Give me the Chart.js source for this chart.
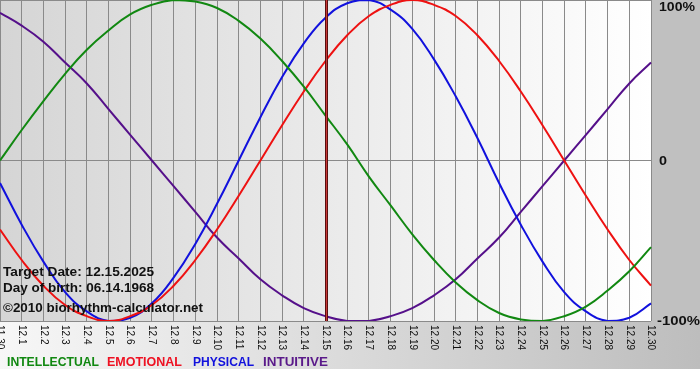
<!DOCTYPE html>
<html><head><meta charset="utf-8">
<script src="https://cdn.jsdelivr.net/npm/chart.js@4.4.1/dist/chart.umd.min.js"></script>
<style>html,body{margin:0;padding:0;background:#fff}#w{width:700px;height:380px}</style>
</head><body><div id="w"><canvas id="c" width="700" height="380"></canvas></div>
<script>
const days = ["11.30","12.1","12.2","12.3","12.4","12.5","12.6","12.7","12.8","12.9","12.10","12.11","12.12","12.13","12.14","12.15","12.16","12.17","12.18","12.19","12.20","12.21","12.22","12.23","12.24","12.25","12.26","12.27","12.28","12.29","12.30"];
const intellectual = [0,0.19,0.37,0.54,0.69,0.81,0.91,0.97,1.00,0.99,0.95,0.87,0.76,0.62,0.46,0.28,0.10,-0.10,-0.28,-0.46,-0.62,-0.76,-0.87,-0.95,-0.99,-1.00,-0.97,-0.91,-0.81,-0.69,-0.54];
const emotional = [-0.43,-0.62,-0.78,-0.90,-0.97,-1.00,-0.97,-0.90,-0.78,-0.62,-0.43,-0.22,0,0.22,0.43,0.62,0.78,0.90,0.97,1.00,0.97,0.90,0.78,0.62,0.43,0.22,0,-0.22,-0.43,-0.62,-0.78];
const physical = [-0.14,-0.40,-0.63,-0.82,-0.94,-1.00,-0.98,-0.89,-0.73,-0.52,-0.27,0,0.27,0.52,0.73,0.89,0.98,1.00,0.94,0.82,0.63,0.40,0.14,-0.14,-0.40,-0.63,-0.82,-0.94,-1.00,-0.98,-0.89];
const intuitive = [0.92,0.84,0.74,0.61,0.48,0.32,0.16,0,-0.16,-0.32,-0.48,-0.61,-0.74,-0.84,-0.92,-0.97,-1.00,-1.00,-0.97,-0.92,-0.84,-0.74,-0.61,-0.48,-0.32,-0.16,0,0.16,0.32,0.48,0.61];
const yTicks = [{v:1,t:"100%"},{v:0,t:"0"},{v:-1,t:"-100%"}];
const targetDay = "12.15";
const infoLines = ["Target Date: 12.15.2025","Day of birth: 06.14.1968","©2010 biorhythm-calculator.net"];
const legendItems = [{t:"INTELLECTUAL",c:"#118811"},{t:"EMOTIONAL",c:"#ee1122"},{t:"PHYSICAL",c:"#1111dd"},{t:"INTUITIVE",c:"#5a1a8a"}];

const FONT = "'Liberation Sans', Arial, sans-serif";

function fitText(ctx, text, x, y, w){
  const m = ctx.measureText(text).width;
  ctx.save(); ctx.translate(x, y); ctx.scale(w/m, 1);
  ctx.fillText(text, 0, 0); ctx.restore();
}

const deco = {
  id:'deco',
  beforeDraw(chart){
    const {ctx, chartArea:a, width} = chart;
    ctx.save();
    let g = ctx.createLinearGradient(0,0,width,0);
    g.addColorStop(0,'#f7f7f7'); g.addColorStop(1,'#bdbdbd');
    ctx.fillStyle = g; ctx.fillRect(0,0,width,369);
    ctx.fillStyle = '#c0c0c0'; ctx.fillRect(a.right,0,width-a.right,a.bottom);
    g = ctx.createLinearGradient(a.left,0,a.right,0);
    g.addColorStop(0,'#d5d5d5'); g.addColorStop(1,'#ffffff');
    ctx.fillStyle = g; ctx.fillRect(a.left,a.top,a.right-a.left,a.bottom-a.top);
    ctx.restore();
  },
  afterDatasetsDraw(chart){
    const {ctx, chartArea:a, scales} = chart;
    const x = scales.x, y = scales.y;
    ctx.save();
    const tx = Math.round(x.getPixelForValue(days.indexOf(targetDay))) + 0.5;
    ctx.strokeStyle = '#5a0f0f'; ctx.lineWidth = 3;
    ctx.beginPath(); ctx.moveTo(tx,a.top); ctx.lineTo(tx,a.bottom); ctx.stroke();
    ctx.strokeStyle = '#c83838'; ctx.lineWidth = 1;
    ctx.beginPath(); ctx.moveTo(tx,a.top); ctx.lineTo(tx,a.bottom); ctx.stroke();
    ctx.fillStyle = '#111'; ctx.font = 'bold 12.5px ' + FONT;
    ctx.textAlign = 'left'; ctx.textBaseline = 'alphabetic';
    fitText(ctx, infoLines[0], 3, 276, 151);
    fitText(ctx, infoLines[1], 3, 292, 151);
    fitText(ctx, infoLines[2], 3, 312, 200);
    ctx.font = 'bold 12.5px ' + FONT; ctx.textBaseline = 'middle';
    yTicks.forEach(o=>{
      const py = Math.min(Math.max(y.getPixelForValue(o.v), a.top+7), a.bottom);
      if (o.v < 0) fitText(ctx, o.t, a.right + 6, py+1, 43);
      else if (o.v > 0) fitText(ctx, o.t, a.right + 8, py+1, 36);
      else fitText(ctx, o.t, a.right + 8, py+1, 8);
    });
    ctx.font = '10px ' + FONT; ctx.fillStyle = '#111';
    days.forEach((d,i)=>{
      const px = x.getPixelForValue(i);
      ctx.save(); ctx.translate(px, a.bottom + 4); ctx.rotate(Math.PI/2);
      ctx.textAlign = 'left'; ctx.textBaseline = 'middle';
      ctx.fillText(d, 0, 0);
      ctx.restore();
    });
    ctx.font = 'bold 12px ' + FONT; ctx.textBaseline = 'alphabetic';
    const lxs = [7, 107, 193, 263], lws = [92, 75, 61, 65];
    legendItems.forEach((it,i)=>{
      ctx.fillStyle = it.c; fitText(ctx, it.t, lxs[i], 366, lws[i]);
    });
    ctx.restore();
  }
};

const ds = (label, data, color) => ({label, data, borderColor: color, borderWidth: 2, pointRadius: 0, tension: 0.45, fill: false});

new Chart(document.getElementById('c'), {
  type: 'line',
  data: {
    labels: days,
    datasets: [
      ds('INTELLECTUAL', intellectual, '#118811'),
      ds('EMOTIONAL', emotional, '#ee1111'),
      ds('PHYSICAL', physical, '#1111dd'),
      ds('INTUITIVE', intuitive, '#55108a')
    ]
  },
  options: {
    responsive: false, animation: false,
    layout: {padding: {left: 0, top: 0, right: 49, bottom: 59}},
    plugins: {legend: {display: false}, tooltip: {enabled: false}},
    scales: {
      x: {
        offset: false,
        grid: {color: '#8a8a8a', lineWidth: 1, drawTicks: false},
        border: {display: false},
        ticks: {display: false},
        afterFit(s){ s.height = 0; }
      },
      y: {
        min: -1, max: 1,
        grid: {color: '#8a8a8a', lineWidth: 1, drawTicks: false},
        border: {display: false},
        ticks: {display: false, stepSize: 1},
        afterFit(s){ s.width = 0; }
      }
    }
  },
  plugins: [deco]
});
</script>
</body></html>
